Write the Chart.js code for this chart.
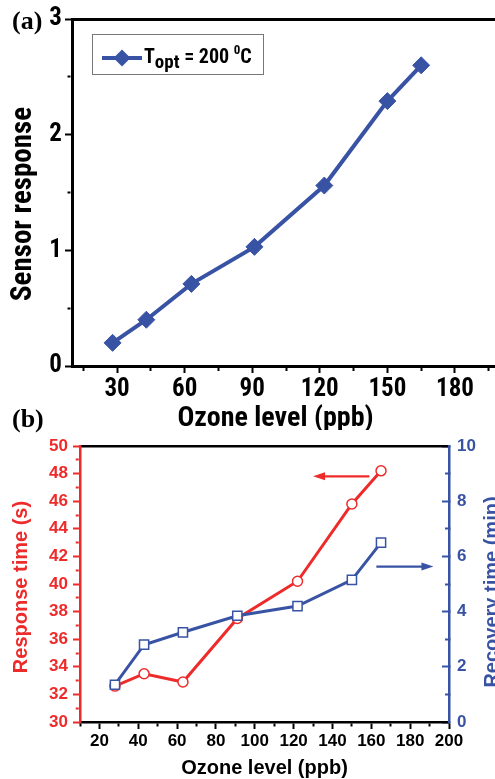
<!DOCTYPE html>
<html>
<head>
<meta charset="utf-8">
<title>Ozone sensing</title>
<script src="https://cdn.jsdelivr.net/npm/chart.js@4.4.1/dist/chart.umd.min.js"></script>
<style>
  html, body { margin: 0; padding: 0; background: #fff; }
  body { width: 495px; height: 779px; overflow: hidden; position: relative; }
  canvas { position: absolute; left: 0; }
  #panelA { top: 0; }
  #panelB { top: 400px; }
</style>
</head>
<body>
<canvas id="panelA" width="520" height="430"></canvas>
<canvas id="panelB" width="500" height="379"></canvas>
<script>
// Ozone concentrations (ppb) shared by both panels
const ozoneLevels = [28, 43, 63, 91, 122, 150, 165];

// Panel (a): sensor response at the optimum temperature
const sensorResponse = [0.2, 0.4, 0.71, 1.03, 1.56, 2.29, 2.6];
const aTicksX  = [15, 30, 45, 60, 75, 90, 105, 120, 135, 150, 165, 180, 195];
const aLabelsX = ['', '30', '', '60', '', '90', '', '120', '', '150', '', '180', ''];
const aTicksY  = [0, 0.5, 1, 1.5, 2, 2.5, 3];
const aLabelsY = ['0', '', '1', '', '2', '', '3'];

// Panel (b): response time (s, left axis) and recovery time (min, right axis)
const responseTime = [32.6, 33.5, 32.9, 37.5, 40.2, 45.8, 48.2];
const recoveryTime = [1.35, 2.8, 3.25, 3.85, 4.2, 5.15, 6.5];
const bTicksX  = [10, 20, 30, 40, 50, 60, 70, 80, 90, 100, 110, 120, 130, 140, 150, 160, 170, 180, 190, 200];
const bLabelsX = ['', '20', '', '40', '', '60', '', '80', '', '100', '', '120', '', '140', '', '160', '', '180', '', '200'];
const bTicksY  = [30, 31, 32, 33, 34, 35, 36, 37, 38, 39, 40, 41, 42, 43, 44, 45, 46, 47, 48, 49, 50];
const bLabelsY = ['30', '', '32', '', '34', '', '36', '', '38', '', '40', '', '42', '', '44', '', '46', '', '48', '', '50'];
const bTicksY2  = [0, 1, 2, 3, 4, 5, 6, 7, 8, 9, 10];
const bLabelsY2 = ['0', '', '2', '', '4', '', '6', '', '8', '', '10'];

// Arrows tying each curve to its axis: [start x, tip x, level]
const responseArrow = [159, 130, 47.8];
const recoveryArrow = [162.6, 192, 5.63];

const BLUE = '#3953A4';
const RED = '#EE2B2B';
const SANS = '"Liberation Sans", Arial, Helvetica, sans-serif';
const NARROW = '"Roboto Condensed", "Liberation Sans", Arial, sans-serif';
const SERIF = '"Liberation Serif", "Times New Roman", serif';

// Free text placed in canvas coordinates (panel letters and axis titles)
const captions = {
  id: 'captions',
  afterDraw(chart, args, opts) {
    const ctx = chart.ctx;
    for (const c of opts.items || []) {
      ctx.save();
      ctx.translate(c.x, c.y);
      if (c.rotate) ctx.rotate(c.rotate);
      ctx.font = c.font;
      ctx.fillStyle = c.color || '#000';
      ctx.textAlign = c.align || 'center';
      ctx.textBaseline = 'alphabetic';
      ctx.fillText(c.text, 0, 0);
      ctx.restore();
    }
  }
};

// Legend box with a subscripted/superscripted label
const richLegend = {
  id: 'richLegend',
  afterDraw(chart, args, o) {
    if (!o || !o.box) return;
    const ctx = chart.ctx;
    const ds = chart.data.datasets[0];
    const b = o.box;
    ctx.save();
    ctx.fillStyle = '#fff';
    ctx.fillRect(b.x, b.y, b.w, b.h);
    ctx.strokeStyle = '#777';
    ctx.lineWidth = 1;
    ctx.strokeRect(b.x + 0.5, b.y + 0.5, b.w, b.h);
    const cy = b.y + o.sampleY;
    ctx.strokeStyle = ds.borderColor;
    ctx.lineWidth = ds.borderWidth;
    ctx.beginPath();
    ctx.moveTo(b.x + o.sampleFrom, cy);
    ctx.lineTo(b.x + o.sampleTo, cy);
    ctx.stroke();
    ctx.fillStyle = ds.pointBackgroundColor;
    Chart.helpers.drawPoint(ctx, { pointStyle: ds.pointStyle, radius: ds.pointRadius, borderWidth: 0, rotation: 0 },
      b.x + (o.sampleFrom + o.sampleTo) / 2, cy);
    ctx.fillStyle = '#000';
    ctx.textBaseline = 'alphabetic';
    ctx.textAlign = 'left';
    let x = b.x + o.textX;
    for (const r of o.runs) {
      ctx.font = 'bold ' + r.size + 'px ' + o.family;
      ctx.fillText(r.text, x, b.y + o.baseline + r.dy);
      x += ctx.measureText(r.text).width;
    }
    ctx.restore();
  }
};

// Arrows drawn in data coordinates
const arrows = {
  id: 'arrows',
  afterDatasetsDraw(chart, args, opts) {
    const ctx = chart.ctx;
    const xs = chart.scales.x;
    for (const a of opts.items || []) {
      const ys = chart.scales[a.axis];
      const x0 = xs.getPixelForValue(a.values[0]);
      const x1 = xs.getPixelForValue(a.values[1]);
      const y = ys.getPixelForValue(a.values[2]);
      const dir = Math.sign(x1 - x0);
      ctx.save();
      ctx.strokeStyle = a.color;
      ctx.fillStyle = a.color;
      ctx.lineWidth = 2.3;
      ctx.beginPath();
      ctx.moveTo(x0, y);
      ctx.lineTo(x1 - dir * 9, y);
      ctx.stroke();
      ctx.beginPath();
      ctx.moveTo(x1, y);
      ctx.lineTo(x1 - dir * 12, y - 4);
      ctx.lineTo(x1 - dir * 12, y + 4);
      ctx.closePath();
      ctx.fill();
      ctx.restore();
    }
  }
};

const fixedTicks = values => scale => { scale.ticks = values.map(v => ({ value: v })); };
const labelsFrom = labels => (value, index) => labels[index];

// Minor ticks keep only the segment next to the axis line
function tickDash(labels, dash) {
  return ctx => (labels[ctx.index] ? [] : dash);
}

// ---------- Panel (a) ----------
const fontA = { family: NARROW, size: 25, weight: 'bold' };
new Chart(document.getElementById('panelA'), {
  type: 'line',
  data: {
    datasets: [{
      data: ozoneLevels.map((x, i) => ({ x, y: sensorResponse[i] })),
      borderColor: BLUE,
      backgroundColor: BLUE,
      borderWidth: 4,
      pointStyle: 'rectRot',
      pointRadius: 8.5,
      pointBorderWidth: 1,
      pointBackgroundColor: BLUE,
      pointBorderColor: BLUE,
      tension: 0
    }]
  },
  options: {
    responsive: false,
    devicePixelRatio: 1,
    animation: false,
    layout: { padding: { top: 19, right: 20, left: 0, bottom: 0 } },
    plugins: {
      legend: { display: false },
      tooltip: { enabled: false },
      captions: {
        items: [
          { text: '(a)', x: 12, y: 29, font: 'bold 26px ' + SERIF, align: 'left' },
          { text: 'Sensor response', x: 31, y: 204, rotate: -Math.PI / 2, font: 'bold 29px ' + NARROW },
          { text: 'Ozone level (ppb)', x: 275.5, y: 426, font: 'bold 28px ' + NARROW }
        ]
      },
      richLegend: {
        box: { x: 92, y: 34, w: 171, h: 40 },
        sampleFrom: 10, sampleTo: 50, sampleY: 24,
        textX: 52, baseline: 29,
        family: NARROW,
        runs: [
          { text: 'T', size: 20, dy: 0 },
          { text: 'opt', size: 19, dy: 5 },
          { text: ' = 200 ', size: 20, dy: 0 },
          { text: '0', size: 13, dy: -9 },
          { text: 'C', size: 20, dy: 0 }
        ]
      }
    },
    scales: {
      x: {
        type: 'linear', position: 'bottom', min: 10, max: 200,
        afterBuildTicks: fixedTicks(aTicksX),
        afterFit: s => { s.height = 64; },
        ticks: { callback: labelsFrom(aLabelsX), font: fontA, color: '#000', padding: 2, maxRotation: 0, autoSkip: false },
        grid: { drawOnChartArea: false, tickLength: 7, tickWidth: 2, tickColor: '#000', tickBorderDash: tickDash(aLabelsX, [3, 100]) },
        border: { color: '#000', width: 3 }
      },
      xTop: {
        type: 'linear', position: 'top', min: 10, max: 200,
        afterFit: s => { s.height = 0; },
        ticks: { display: false },
        grid: { display: false },
        border: { color: '#000', width: 3 }
      },
      y: {
        type: 'linear', position: 'left', min: 0, max: 3,
        afterBuildTicks: fixedTicks(aTicksY),
        afterFit: s => { s.width = 72; },
        ticks: { callback: labelsFrom(aLabelsY), font: fontA, color: '#000', padding: 3, autoSkip: false },
        grid: { drawOnChartArea: false, tickLength: 7, tickWidth: 2, tickColor: '#000', tickBorderDash: tickDash(aLabelsY, [0, 2.5, 3, 100]) },
        border: { color: '#000', width: 3 }
      }
    }
  },
  plugins: [captions, richLegend]
});

// ---------- Panel (b) ----------
const fontB = { family: SANS, size: 17, weight: 'bold' };
new Chart(document.getElementById('panelB'), {
  type: 'line',
  data: {
    datasets: [
      {
        label: 'Recovery time (min)',
        data: ozoneLevels.map((x, i) => ({ x, y: recoveryTime[i] })),
        yAxisID: 'y2',
        borderColor: BLUE,
        borderWidth: 3,
        pointStyle: 'rect',
        pointRadius: 6.5,
        pointBackgroundColor: '#fff',
        pointBorderColor: BLUE,
        pointBorderWidth: 1.5,
        tension: 0,
        order: 0
      },
      {
        label: 'Response time (s)',
        data: ozoneLevels.map((x, i) => ({ x, y: responseTime[i] })),
        yAxisID: 'y',
        borderColor: RED,
        borderWidth: 3,
        pointStyle: 'circle',
        pointRadius: 5,
        pointBackgroundColor: '#fff',
        pointBorderColor: RED,
        pointBorderWidth: 1.5,
        tension: 0,
        order: 1
      }
    ]
  },
  options: {
    responsive: false,
    devicePixelRatio: 1,
    animation: false,
    layout: { padding: { top: 46, right: 0, left: 0, bottom: 0 } },
    plugins: {
      legend: { display: false },
      tooltip: { enabled: false },
      captions: {
        items: [
          { text: '(b)', x: 12, y: 27, font: 'bold 26px ' + SERIF, align: 'left' },
          { text: 'Response time (s)', x: 26.5, y: 187, rotate: -Math.PI / 2, font: 'bold 20px ' + SANS, color: RED },
          { text: 'Recovery time (min)', x: 497.5, y: 192, rotate: -Math.PI / 2, font: 'bold 20px ' + SANS, color: BLUE },
          { text: 'Ozone level (ppb)', x: 264.5, y: 374, font: 'bold 20px ' + SANS }
        ]
      },
      arrows: {
        items: [
          { values: responseArrow, axis: 'y', color: RED },
          { values: recoveryArrow, axis: 'y2', color: BLUE }
        ]
      }
    },
    scales: {
      x: {
        type: 'linear', position: 'bottom', min: 10, max: 200,
        afterBuildTicks: fixedTicks(bTicksX),
        afterFit: s => { s.height = 57; },
        ticks: { callback: labelsFrom(bLabelsX), font: fontB, color: '#000', padding: 2, maxRotation: 0, autoSkip: false },
        grid: { drawOnChartArea: false, tickLength: 7, tickWidth: 2, tickColor: '#000', tickBorderDash: tickDash(bLabelsX, [3, 100]) },
        border: { color: '#000', width: 2.5 }
      },
      xTop: {
        type: 'linear', position: 'top', min: 10, max: 200,
        afterFit: s => { s.height = 0; },
        ticks: { display: false },
        grid: { display: false },
        border: { color: '#000', width: 2.5 }
      },
      y: {
        type: 'linear', position: 'left', min: 30, max: 50,
        afterBuildTicks: fixedTicks(bTicksY),
        afterFit: s => { s.width = 80; },
        ticks: { callback: labelsFrom(bLabelsY), font: fontB, color: RED, padding: 5, autoSkip: false },
        grid: { drawOnChartArea: false, tickLength: 7, tickWidth: 2, tickColor: RED, tickBorderDash: tickDash(bLabelsY, [0, 2.75, 3, 100]) },
        border: { color: RED, width: 2.5 }
      },
      y2: {
        type: 'linear', position: 'right', min: 0, max: 10,
        afterBuildTicks: fixedTicks(bTicksY2),
        afterFit: s => { s.width = 51; },
        ticks: { callback: labelsFrom(bLabelsY2), font: fontB, color: BLUE, padding: 15, autoSkip: false },
        grid: { drawOnChartArea: false, tickLength: -7, tickWidth: 2, tickColor: BLUE, tickBorderDash: tickDash(bLabelsY2, [5.5, 100]) },
        border: { color: BLUE, width: 2.5 }
      }
    }
  },
  plugins: [captions, arrows]
});
</script>
</body>
</html>
